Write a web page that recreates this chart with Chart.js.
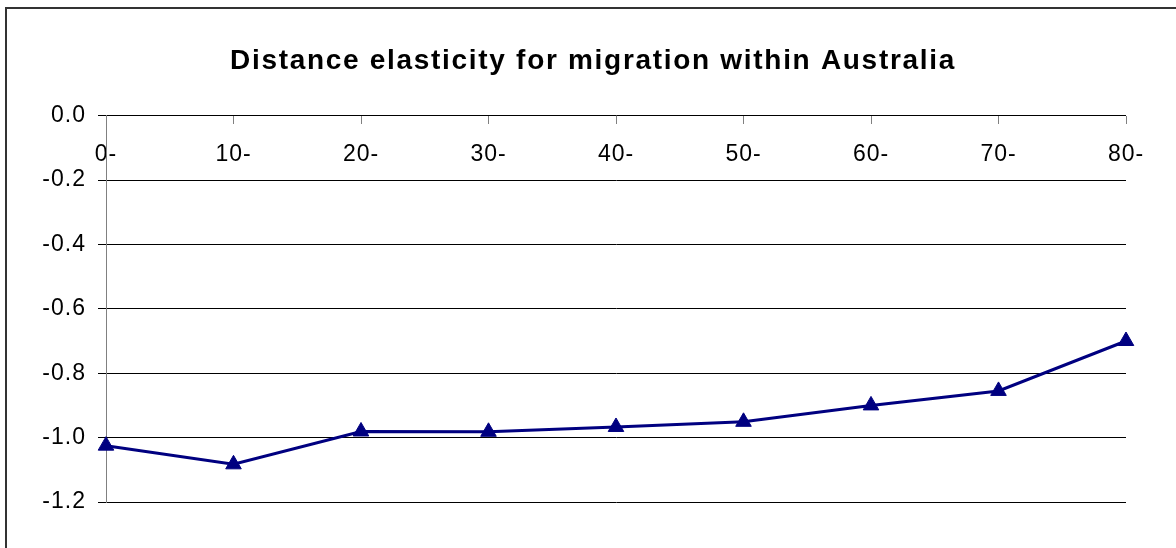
<!DOCTYPE html>
<html>
<head>
<meta charset="utf-8">
<script src="https://cdn.jsdelivr.net/npm/chart.js@4/dist/chart.umd.min.js"></script>
<style>
  body { margin: 0; background: #fff; }
  #wrap { position: relative; width: 1176px; height: 548px; overflow: hidden; }
  #frame { position: absolute; left: 5px; top: 7px; width: 1300px; height: 700px;
           border-top: 2px solid #333; border-left: 2px solid #333; }
  canvas { position: absolute; left: 0; top: 0; }
</style>
</head>
<body>
<div id="wrap">
  <div id="frame"></div>
  <canvas id="elasticityChart" width="1176" height="548"></canvas>
</div>
<script>
const ageGroups = ['0-', '10-', '20-', '30-', '40-', '50-', '60-', '70-', '80-'];
const elasticity = [-1.025, -1.083, -0.981, -0.982, -0.967, -0.951, -0.900, -0.855, -0.700];
const yMin = -1.2;
const yMax = 0.0;
const yStep = 0.2;

const ctx = document.getElementById('elasticityChart');
const axisFont = {family: "'Liberation Sans', Arial, sans-serif", size: 23};

// wider text spacing: a little for the axis labels, more for the title
const spacingPlugin = {
    id: 'spacing',
    afterLayout(chart) {
        const t = chart.titleBlock;
        if (t && !t._spaced) {
            const draw = t.draw.bind(t);
            t.draw = (area) => {
                const c = chart.ctx;
                const prev = c.letterSpacing;
                c.letterSpacing = '1.7px';
                draw(area);
                c.letterSpacing = prev;
            };
            t._spaced = true;
        }
    },
    beforeDraw(chart) {
        chart.ctx.letterSpacing = '1px';
    }
};

new Chart(ctx, {
    type: 'line',
    data: {
        labels: ageGroups,
        datasets: [{
            label: 'Distance elasticity',
            data: elasticity,
            borderColor: '#000080',
            backgroundColor: '#000080',
            borderWidth: 3,
            tension: 0,
            pointStyle: 'triangle',
            pointRadius: 9,
            pointBorderWidth: 1
        }]
    },
    options: {
        responsive: false,
        animation: false,
        layout: {padding: {left: 10, right: 0, top: 0, bottom: 46}},
        plugins: {
            legend: {display: false},
            tooltip: {enabled: false},
            title: {
                display: true,
                text: 'Distance elasticity for migration within Australia',
                color: '#000',
                font: {family: "'Liberation Sans', Arial, sans-serif", size: 28, weight: 'bold'},
                padding: {top: 44, bottom: 38}
            }
        },
        scales: {
            x: {
                type: 'category',
                position: {y: 0},
                offset: false,
                border: {display: false},
                grid: {display: true, drawOnChartArea: false, drawTicks: true, tickLength: 8, color: '#808080', offset: false},
                ticks: {color: '#000', font: axisFont, padding: 17, maxRotation: 0, autoSkip: false}
            },
            y: {
                min: yMin,
                max: yMax,
                afterFit: (scale) => { scale.width = 96; },
                border: {display: true, color: '#808080', width: 1},
                grid: {color: '#000', tickLength: 8, lineWidth: 1},
                ticks: {
                    stepSize: yStep,
                    color: '#000',
                    font: axisFont,
                    padding: 12,
                    callback: (v) => Number(v).toFixed(1)
                }
            },
            // empty right-hand axis that keeps the margin beside the plot
            yRight: {
                position: 'right',
                min: yMin,
                max: yMax,
                afterFit: (scale) => { scale.width = 50; },
                border: {display: false},
                grid: {drawOnChartArea: false, drawTicks: false},
                ticks: {display: false}
            }
        }
    },
    plugins: [spacingPlugin]
});
</script>
</body>
</html>
